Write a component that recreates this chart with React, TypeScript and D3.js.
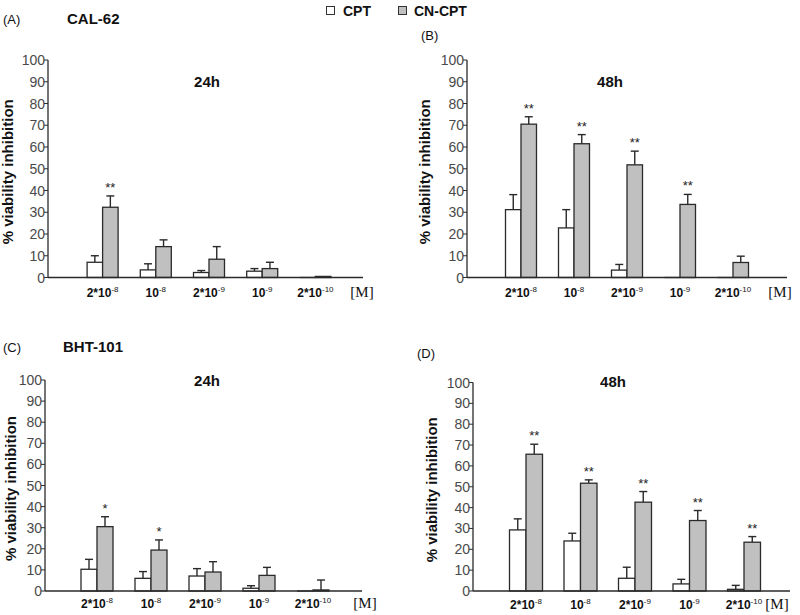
import React from "react";
import * as d3 from "d3";

const categories = ["2*10^-8", "10^-8", "2*10^-9", "10^-9", "2*10^-10"];
const catBase = ["2*10", "10", "2*10", "10", "2*10"];
const catExp = ["-8", "-8", "-9", "-9", "-10"];
const yTicks = [0, 10, 20, 30, 40, 50, 60, 70, 80, 90, 100];

// Panel A: CAL-62 24h
const cptA = [7.0, 3.5, 2.3, 2.9, 0];
const cptAErr = [3.0, 2.8, 0.9, 1.2, 0];
const cnA = [32.3, 14.2, 8.4, 4.1, 0.5];
const cnAErr = [5.2, 3.1, 5.8, 2.9, 0];
const sigA = ["**", "", "", "", ""];

// Panel B: CAL-62 48h
const cptB = [31.2, 22.8, 3.4, 0, 0];
const cptBErr = [6.9, 8.4, 2.6, 0, 0];
const cnB = [70.5, 61.5, 51.8, 33.6, 6.9];
const cnBErr = [3.4, 4.2, 6.3, 4.6, 2.9];
const sigB = ["**", "**", "**", "**", ""];

// Panel C: BHT-101 24h
const cptC = [10.3, 6.0, 7.1, 1.3, 0];
const cptCErr = [4.7, 3.2, 3.5, 1.2, 0];
const cnC = [30.5, 19.4, 9.0, 7.4, 0.5];
const cnCErr = [4.7, 4.8, 4.9, 3.8, 4.7];
const sigC = ["*", "*", "", "", ""];

// Panel D: BHT-101 48h
const cptD = [29.3, 24.0, 6.1, 3.4, 0.8];
const cptDErr = [5.3, 3.7, 5.3, 2.2, 1.9];
const cnD = [65.6, 51.7, 42.6, 33.8, 23.4];
const cnDErr = [4.8, 1.6, 5.1, 4.8, 2.7];
const sigD = ["**", "**", "**", "**", "**"];

const FONT = "Liberation Sans, Arial, sans-serif";
const STROKE = "#2a2a2a";
const CN_FILL = "#c0c0c0";

type PanelProps = {
  axisX: number;
  y0: number;
  y100: number;
  xEnd: number;
  bandRange: [number, number];
  barW: number;
  labelY: number;
  mX: number;
  yLabelX: number;
  cpt: number[];
  cptErr: number[];
  cn: number[];
  cnErr: number[];
  sig: string[];
};

function Panel(p: PanelProps) {
  const y = d3.scaleLinear().domain([0, 100]).range([p.y0, p.y100]);
  const x = d3.scaleBand<string>().domain(categories).range(p.bandRange).padding(0);
  const center = (c: string) => (x(c) as number) + x.bandwidth() / 2;
  const cap = 4;

  const errBar = (cx: number, v: number, e: number, key: string) => {
    if (e <= 0) return null;
    return (
      <g key={key} stroke={STROKE} strokeWidth={1.4}>
        <line x1={cx} x2={cx} y1={y(v)} y2={y(v + e)} />
        <line x1={cx - cap} x2={cx + cap} y1={y(v + e)} y2={y(v + e)} />
      </g>
    );
  };

  const bar = (bx: number, v: number, fill: string) =>
    v > 0 ? (
      <rect x={bx} y={y(v)} width={p.barW} height={y(0) - y(v)} fill={fill} stroke={STROKE} strokeWidth={1.3} />
    ) : (
      <line x1={bx} x2={bx + p.barW} y1={y(0)} y2={y(0)} stroke={STROKE} strokeWidth={1.3} />
    );

  return (
    <g>
      <text
        transform={`translate(${p.yLabelX},${(p.y0 + p.y100) / 2 + 3}) rotate(-90)`}
        textAnchor="middle"
        fontFamily={FONT}
        fontWeight="bold"
        fontSize={15}
        fill="#111"
      >
        % viability inhibition
      </text>
      {yTicks.map((t) => (
        <g key={t}>
          <line x1={p.axisX - 4} x2={p.axisX} y1={y(t)} y2={y(t)} stroke={STROKE} strokeWidth={1} />
          <text
            x={p.axisX - 3}
            y={y(t)}
            dy="0.36em"
            textAnchor="end"
            fontFamily={FONT}
            fontSize={14}
            fill="#4a4a4a"
          >
            {t}
          </text>
        </g>
      ))}
      {categories.map((c, i) => {
        const cx = center(c);
        return (
          <g key={c}>
            {errBar(cx - p.barW / 2, p.cpt[i], p.cptErr[i], "ec")}
            {errBar(cx + p.barW / 2, p.cn[i], p.cnErr[i], "en")}
            {bar(cx - p.barW, p.cpt[i], "#fff")}
            {bar(cx, p.cn[i], CN_FILL)}
            {p.sig[i] && (
              <text
                x={cx + p.barW / 2}
                y={y(p.cn[i] + p.cnErr[i]) - 4}
                textAnchor="middle"
                fontFamily={FONT}
                fontSize={13}
                fill="#222"
              >
                {p.sig[i]}
              </text>
            )}
            <text
              x={cx}
              y={p.labelY}
              textAnchor="middle"
              fontFamily={FONT}
              fontWeight="bold"
              fontSize={12}
              fill="#111"
            >
              {catBase[i]}
              <tspan fontSize={8} fontWeight="normal" dy={-5}>
                {catExp[i]}
              </tspan>
            </text>
          </g>
        );
      })}
      <line x1={p.axisX} x2={p.axisX} y1={y(100)} y2={y(0)} stroke={STROKE} strokeWidth={1.3} />
      <line x1={p.axisX} x2={p.xEnd} y1={y(0)} y2={y(0)} stroke={STROKE} strokeWidth={1.3} />
      <text
        x={p.mX}
        y={p.labelY}
        textAnchor="middle"
        fontFamily="Liberation Serif, Times New Roman, serif"
        fontSize={15}
        fill="#111"
      >
        [M]
      </text>
    </g>
  );
}

export default function App() {
  return (
    <svg width={800} height={615} style={{ position: "absolute", left: 0, top: 0, background: "#fff" }}>
      <rect width={800} height={615} fill="#fff" />
      <rect x={326.5} y={6.5} width={8} height={8} fill="#fff" stroke="#333" strokeWidth={1} />
      <text x={343} y={15.5} fontFamily={FONT} fontWeight="bold" fontSize={14} fill="#111">
        CPT
      </text>
      <rect x={398.5} y={6.5} width={8} height={8} fill={CN_FILL} stroke="#333" strokeWidth={1} />
      <text x={414} y={15.5} fontFamily={FONT} fontWeight="bold" fontSize={14} fill="#111">
        CN-CPT
      </text>

      <text x={3} y={24} fontFamily={FONT} fontSize={13} fill="#111">(A)</text>
      <text x={67} y={24} fontFamily={FONT} fontWeight="bold" fontSize={15} fill="#111">CAL-62</text>
      <text x={207} y={87} textAnchor="middle" fontFamily={FONT} fontWeight="bold" fontSize={15} fill="#111">24h</text>

      <text x={421} y={40} fontFamily={FONT} fontSize={13} fill="#111">(B)</text>
      <text x={610} y={87} textAnchor="middle" fontFamily={FONT} fontWeight="bold" fontSize={15} fill="#111">48h</text>

      <text x={3} y={352} fontFamily={FONT} fontSize={13} fill="#111">(C)</text>
      <text x={63} y={352} fontFamily={FONT} fontWeight="bold" fontSize={15} fill="#111">BHT-101</text>
      <text x={207} y={386} textAnchor="middle" fontFamily={FONT} fontWeight="bold" fontSize={15} fill="#111">24h</text>

      <text x={417} y={358} fontFamily={FONT} fontSize={13} fill="#111">(D)</text>
      <text x={613} y={387} textAnchor="middle" fontFamily={FONT} fontWeight="bold" fontSize={15} fill="#111">48h</text>

      <Panel axisX={48} y0={277.5} y100={60} xEnd={363} bandRange={[76, 342]} barW={15.5} labelY={297} mX={362} yLabelX={13}
        cpt={cptA} cptErr={cptAErr} cn={cnA} cnErr={cnAErr} sig={sigA} />
      <Panel axisX={467} y0={277.5} y100={60} xEnd={787} bandRange={[494.5, 759.5]} barW={15.5} labelY={297} mX={780} yLabelX={430}
        cpt={cptB} cptErr={cptBErr} cn={cnB} cnErr={cnBErr} sig={sigB} />
      <Panel axisX={45} y0={591} y100={380} xEnd={362} bandRange={[70, 340]} barW={16} labelY={608} mX={365} yLabelX={16}
        cpt={cptC} cptErr={cptCErr} cn={cnC} cnErr={cnCErr} sig={sigC} />
      <Panel axisX={473} y0={591} y100={382.5} xEnd={790} bandRange={[498.75, 771.25]} barW={16.5} labelY={609} mX={777} yLabelX={437}
        cpt={cptD} cptErr={cptDErr} cn={cnD} cnErr={cnDErr} sig={sigD} />
    </svg>
  );
}
